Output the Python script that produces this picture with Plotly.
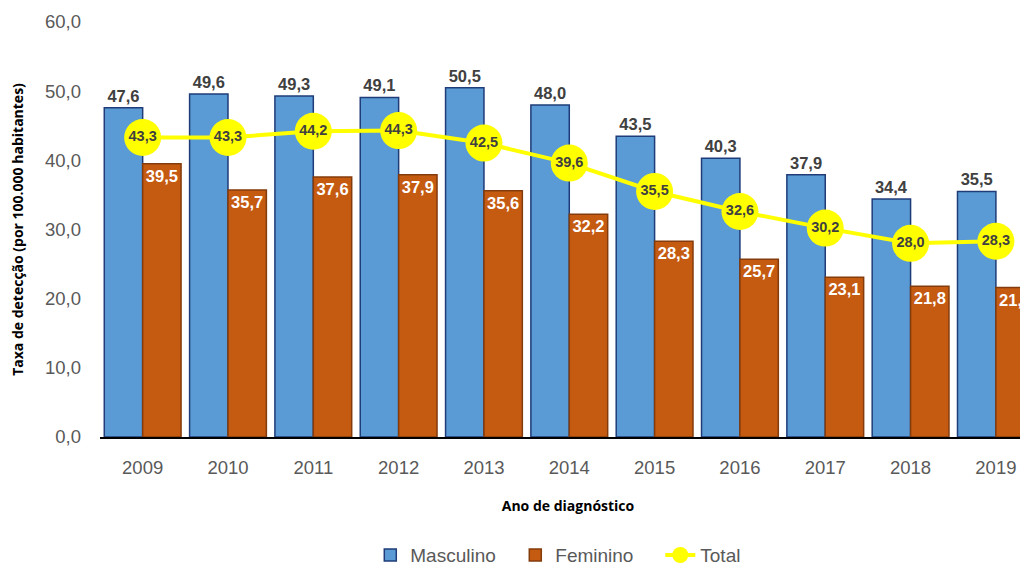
import plotly.graph_objects as go

years = ["2009", "2010", "2011", "2012", "2013", "2014", "2015", "2016", "2017", "2018", "2019"]
masculino = [47.6, 49.6, 49.3, 49.1, 50.5, 48.0, 43.5, 40.3, 37.9, 34.4, 35.5]
feminino = [39.5, 35.7, 37.6, 37.9, 35.6, 32.2, 28.3, 25.7, 23.1, 21.8, 21.6]
total = [43.3, 43.3, 44.2, 44.3, 42.5, 39.6, 35.5, 32.6, 30.2, 28.0, 28.3]

def fmt(v):
    return f"{v:.1f}".replace(".", ",")

fig = go.Figure()
fig.add_trace(go.Bar(
    x=years, y=masculino, name="Masculino",
    marker=dict(color="#5B9BD5", line=dict(color="#1F3C78", width=1.5)),
    text=[fmt(v) for v in masculino], textposition="outside",
    textfont=dict(family="Liberation Sans, Arial", size=16.5, color="#404040", weight="bold"),
))
fig.add_trace(go.Bar(
    x=years, y=feminino, name="Feminino",
    marker=dict(color="#C55A11", line=dict(color="#843C0C", width=1.5)),
    text=[fmt(v) for v in feminino], textposition="inside", insidetextanchor="end",
    textangle=0, constraintext="none",
    textfont=dict(family="Liberation Sans, Arial", size=16.5, color="white", weight="bold"),
))
fig.add_trace(go.Scatter(
    x=years, y=total, name="Total", mode="lines+markers+text",
    line=dict(color="#FFFF00", width=4),
    marker=dict(color="#FFFF00", size=37),
    text=[fmt(v) for v in total], textposition="middle center",
    textfont=dict(family="Liberation Sans, Arial", size=14.5, color="#404040", weight="bold"),
    cliponaxis=False,
))

fig.update_layout(
    width=1028, height=567,
    separators=",.",
    barmode="group", bargap=0.1, bargroupgap=0,
    plot_bgcolor="white", paper_bgcolor="white",
    margin=dict(l=92, r=0, t=14, b=138, autoexpand=False),
    font=dict(family="Liberation Sans, Arial", color="#595959"),
    uniformtext=dict(minsize=8, mode="show"),
    legend=dict(orientation="h", x=0.564, xref="container", xanchor="center",
                y=0.035, yref="container", yanchor="middle", entrywidth=100,
                font=dict(size=19, color="#595959"), traceorder="normal"),
    xaxis=dict(
        range=[-0.5, 10.47], showline=True, linecolor="black", linewidth=1.5,
        tickfont=dict(size=18.5, color="#595959"), ticks="", automargin=False,
        ticklabelstandoff=13,
        title=dict(text="Ano de diagnóstico", font=dict(family="Open Sans", size=14, color="black", weight="bold"), standoff=24),
    ),
    yaxis=dict(
        range=[0, 60], dtick=10, tickformat=".1f", showgrid=False, zeroline=False,
        showline=False, ticks="", ticklabelstandoff=18, automargin=False,
        tickfont=dict(size=18.5, color="#595959"),
        title=dict(text="Taxa de detecção (por 100.000 habitantes)",
                   font=dict(family="Open Sans", size=14, color="black", weight="bold"), standoff=28),
    ),
)

fig.write_html("out.html")
